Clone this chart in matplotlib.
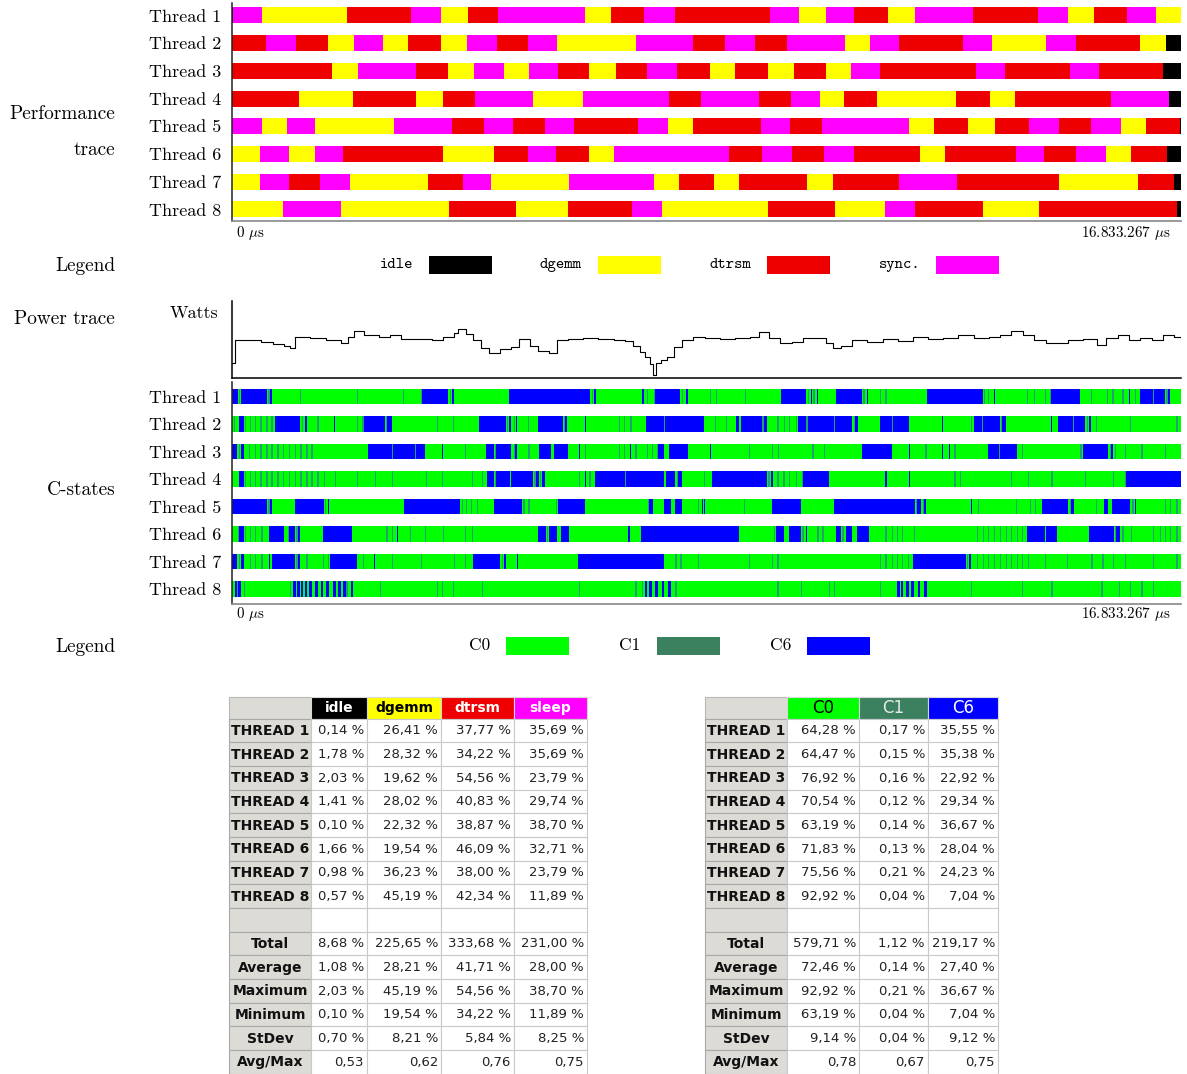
import matplotlib
matplotlib.use("Agg")
import matplotlib.pyplot as plt
from matplotlib.patches import Rectangle

plt.rcParams['mathtext.fontset'] = 'cm'
plt.rcParams['axes.formatter.use_mathtext'] = True

W, H = 1187, 1074
SERIF = 'cmr10'
MONO = 'cmtt10'

threads = [f"Thread {i}" for i in range(1, 9)]
run_end_label = "16.833.267 $\\mu$s"

# ---- performance trace: one state code per segment, segment starts in % of run ----
# I = idle, G = dgemm, T = dtrsm, S = sync.
perf_states = [
    "ISGTSGTSGTSTSGSTGSTSGTSG",
    "TSTGSGTGSTSGSTSTSGSTSGSTGI",
    "TGSTGSGSTGTSTGTGTGSTSTSTI",
    "TGTGTSGSTSTSGTGTGTSI",
    "SGSGSTSTSTSGTSTSGTGTSTSGTI",
    "GSGSTGTSTGSTSTSTGTSTSGTI",
    "GSTSGTSGSGTGTGTSTGTI",
    "GSGTGTSGTGSTGTI",
]
perf_starts = [
    [0, 0.14, 3.16, 12.13, 18.88, 22.05, 24.90, 28.06, 37.24, 39.98, 43.46, 46.63,
     56.65, 59.71, 62.56, 65.51, 69.10, 71.94, 78.06, 84.92, 88.08, 90.83, 94.31, 97.37],
    [0, 3.59, 6.75, 10.13, 12.87, 15.93, 18.57, 22.05, 24.79, 27.95, 31.22, 34.28, 42.62,
     48.63, 51.90, 55.07, 58.44, 64.56, 67.20, 70.26, 77.01, 80.07, 85.76, 88.93, 95.68, 98.42],
    [0, 10.55, 13.29, 19.41, 22.79, 25.53, 28.69, 31.33, 34.39, 37.66, 40.51, 43.78, 46.84,
     50.32, 52.96, 56.44, 59.18, 62.56, 65.19, 68.25, 78.38, 81.44, 88.30, 91.35, 98.10],
    [0, 7.07, 12.76, 19.41, 22.26, 25.63, 31.75, 37.03, 46.10, 49.37, 55.49, 58.86, 61.92,
     64.45, 67.94, 76.27, 79.85, 82.49, 92.62, 98.73],
    [0, 3.16, 5.80, 8.76, 17.09, 23.21, 26.58, 29.64, 33.02, 36.08, 42.83, 45.99, 48.63,
     55.70, 58.76, 62.13, 71.31, 73.95, 77.54, 80.38, 83.97, 87.14, 90.51, 93.67, 96.31, 99.90],
    [0, 2.90, 6.01, 8.70, 11.66, 22.26, 27.64, 31.22, 34.18, 37.66, 40.30, 52.32, 55.80,
     58.97, 62.34, 65.51, 72.47, 75.16, 82.60, 85.55, 88.98, 92.09, 94.73, 98.53],
    [0, 2.90, 6.01, 9.28, 12.45, 20.68, 24.37, 27.32, 35.55, 44.52, 47.15, 50.74, 53.38,
     60.55, 63.29, 70.26, 76.38, 87.14, 95.47, 99.27],
    [0, 5.38, 11.45, 22.84, 29.96, 35.39, 42.14, 45.26, 56.49, 63.56, 68.78, 71.94, 79.12,
     85.02, 99.63],
]
perf_colors = {'I': '#000000', 'G': '#ffff00', 'T': '#ee0000', 'S': '#ff00ff'}
perf_legend = [('idle', 'I'), ('dgemm', 'G'), ('dtrsm', 'T'), ('sync.', 'S')]

# ---- power trace (time in % of run, relative watts) ----
power_t = [0, 0.28, 1.88, 3.08, 4.27, 5.47, 6.11, 6.67, 8.27, 9.86, 11.47, 12.26, 12.90,
           13.86, 15.45, 16.66, 17.85, 19.44, 21.05, 22.24, 23.44, 23.84, 24.64, 25.43,
           26.24, 27.04, 28.23, 29.43, 30.22, 31.43, 32.23, 33.42, 34.22, 35.42, 37.02,
           38.61, 40.21, 41.41, 42.21, 43.01, 43.57, 44.04, 44.36, 44.69, 45.16, 45.80,
           46.60, 47.40, 48.60, 49.79, 51.39, 52.99, 54.58, 55.54, 56.58, 57.78, 58.98,
           60.17, 61.77, 62.57, 63.37, 64.17, 65.36, 66.96, 68.56, 70.15, 71.75, 73.35,
           74.95, 76.54, 78.15, 79.74, 80.93, 82.13, 83.33, 84.53, 85.73, 86.92, 88.13,
           89.72, 91.15, 92.11, 93.32, 94.51, 95.71, 96.91, 98.11, 99.31, 100]
power_w = [15, 38, 38, 36.3, 34, 32, 30, 41, 40, 38, 35, 41.3, 47.3,
           43, 41.3, 43, 39, 39, 38, 41.3, 45, 49, 44, 38,
           30, 25.3, 29, 31, 39, 32, 27.3, 25, 38, 39, 40,
           39, 38, 37.3, 32, 26.3, 21.3, 14, 3, 15, 18, 21.3,
           31.3, 38, 41, 40, 39, 40, 41.3, 46.3, 40, 35, 36.3,
           40, 40, 35, 30, 32, 38, 36.3, 39, 37.3, 41, 39,
           40, 43, 40, 41.3, 43, 47.3, 43, 38, 35.3, 35, 38,
           39, 33, 40, 43, 38, 40, 38, 43, 41.3, 40]

# ---- C-states: C6 intervals (start, end) and short C1 blips, in % of run ----
c6_spans = [
    [(0, 0.63), (0.92, 3.73), (3.90, 4.22), (19.97, 22.79), (23.21, 23.42), (29.22, 37.77),
     (38.12, 38.36), (43.22, 43.37), (44.55, 47.26), (47.79, 48.00), (57.88, 60.52),
     (60.97, 61.10), (61.68, 61.80), (63.61, 66.42), (66.95, 67.07), (73.25, 79.12),
     (80.28, 80.40), (86.33, 89.31), (94.52, 94.64), (95.64, 98.28), (98.56, 98.81)],
    [(0.70, 1.23), (4.50, 7.21), (7.67, 7.88), (10.76, 10.88), (13.89, 16.11), (16.28, 16.81),
     (26.02, 28.83), (29.22, 29.40), (29.92, 30.04), (32.21, 34.85), (35.13, 35.34),
     (37.17, 37.29), (43.64, 49.72), (53.13, 53.41), (53.66, 55.81), (56.05, 56.40),
     (59.64, 65.37), (65.65, 65.97), (68.29, 71.38), (74.83, 74.95), (78.17, 80.88),
     (81.16, 81.58), (86.33, 86.45), (87.03, 89.91), (90.30, 90.55)],
    [(0, 0.56), (0.91, 1.23), (14.28, 20.33), (22.08, 22.20), (26.72, 27.60), (27.78, 29.40),
     (29.75, 30.03), (32.35, 33.62), (33.90, 35.38), (36.54, 36.66), (41.92, 42.04),
     (44.90, 45.57), (46.03, 48.00), (50.36, 50.48), (66.35, 69.52), (71.31, 71.43),
     (74.83, 74.95), (75.53, 75.65), (79.65, 82.70), (89.67, 92.30), (92.66, 92.83)],
    [(0.70, 1.23), (26.83, 27.60), (27.78, 29.29), (29.40, 31.76), (31.93, 32.39),
     (32.64, 32.99), (37.17, 37.29), (38.29, 45.57), (45.68, 46.73), (46.98, 47.37),
     (50.53, 56.40), (56.75, 57.00), (60.10, 62.94), (68.85, 68.97), (71.31, 71.43),
     (94.13, 100)],
    [(0, 3.73), (3.90, 4.22), (6.68, 9.67), (10.13, 10.25), (18.11, 24.02), (27.60, 30.59),
     (34.36, 36.64), (36.71, 37.24), (43.99, 44.34), (45.50, 46.21), (46.73, 47.44),
     (49.55, 49.67), (49.72, 49.84), (56.86, 59.95), (63.44, 71.98), (72.16, 72.61),
     (72.97, 73.14), (77.89, 78.01), (85.34, 88.08), (88.44, 88.68), (91.88, 92.34),
     (92.76, 94.66), (95.12, 95.29)],
    [(0.70, 1.23), (3.87, 5.45), (6.01, 6.61), (6.96, 7.21), (9.56, 12.66), (17.34, 17.46),
     (32.28, 33.06), (33.44, 34.25), (34.71, 35.48), (41.74, 41.99), (43.15, 53.41),
     (57.28, 58.20), (58.69, 59.95), (60.45, 60.57), (63.61, 64.14), (64.67, 65.37),
     (65.90, 67.16), (83.80, 85.66), (85.80, 86.89), (90.27, 92.90), (93.11, 93.53)],
    [(0, 0.56), (0.91, 1.23), (3.87, 4.04), (4.22, 6.61), (6.96, 7.21), (10.30, 13.19),
     (14.98, 15.10), (25.42, 28.24), (28.69, 28.83), (30.03, 30.15), (36.47, 45.57),
     (71.73, 71.85), (71.91, 77.36), (77.71, 77.89)],
    [(0.35, 0.63), (0.67, 0.95), (6.43, 6.71), (6.86, 7.14), (7.24, 7.52), (7.67, 7.95),
     (8.12, 8.40), (8.79, 9.07), (9.35, 9.63), (9.95, 10.23), (10.65, 10.93), (11.18, 11.46),
     (11.71, 11.99), (12.52, 12.80), (43.50, 43.78), (43.99, 44.27), (44.62, 44.90),
     (45.26, 45.54), (45.96, 46.24), (70.12, 70.40), (70.47, 70.75), (71.03, 71.31),
     (71.56, 71.84), (72.26, 72.54), (72.97, 73.25)],
]
c1_blips = [
    [0.74, 3.83, 7.14, 13.12, 18.04, 19.87, 22.96, 37.94, 43.74, 44.48, 47.44, 50.36, 50.95,
     54.01, 60.69, 61.26, 66.53, 68.29, 68.85, 79.19, 79.65, 83.80, 84.50, 85.62, 86.15,
     90.48, 92.23, 92.76, 93.82, 95.12, 97.05, 98.46],
    [0.21, 1.34, 1.86, 2.39, 2.99, 3.62, 4.15, 7.38, 9.0, 13.12, 13.75, 16.18, 21.55, 23.31,
     28.97, 29.71, 31.15, 34.95, 40.76, 41.28, 41.99, 45.50, 50.88, 52.01, 55.88, 57.46,
     58.16, 58.69, 59.39, 60.52, 63.44, 65.55, 69.55, 77.89, 79.05, 81.05, 88.61, 90.09,
     91.00, 94.59, 99.51],
    [0.70, 1.76, 2.39, 2.99, 3.62, 4.15, 4.78, 5.38, 5.98, 6.61, 7.21, 7.84, 8.37, 16.81,
     19.27, 24.54, 27.71, 29.68, 31.22, 37.17, 40.76, 41.28, 42.51, 43.74, 44.27, 44.80,
     54.47, 56.93, 57.56, 61.15, 62.38, 73.07, 76.13, 80.81, 83.27, 89.39, 92.48, 93.01,
     94.06, 95.82, 98.28],
    [1.34, 1.86, 2.39, 2.99, 3.62, 4.15, 4.78, 5.38, 5.98, 6.61, 7.21, 7.84, 8.37, 9.0, 9.67,
     10.83, 13.12, 15.05, 16.81, 20.40, 22.08, 25.24, 26.30, 27.71, 31.86, 32.46, 36.54,
     37.66, 41.39, 46.91, 49.72, 56.51, 57.46, 58.09, 58.69, 59.39, 60.02, 76.13, 76.66,
     82.11, 83.87, 86.33, 89.84, 92.83, 94.06],
    [3.83, 9.77, 24.19, 24.61, 25.17, 25.77, 30.70, 31.22, 34.15, 43.85, 49.12, 53.94, 72.09,
     72.79, 78.59, 82.63, 84.04, 84.57, 88.26, 91.07, 94.87, 98.28, 98.81, 99.51],
    [0.63, 1.34, 1.86, 2.39, 3.09, 5.91, 6.79, 16.28, 16.81, 18.74, 20.33, 22.26, 24.54,
     25.24, 33.16, 57.11, 60.10, 61.68, 62.21, 64.32, 68.85, 69.55, 70.08, 70.61, 71.84,
     78.52, 79.12, 79.65, 80.28, 80.88, 81.51, 82.11, 82.71, 83.27, 93.01, 93.82, 94.69,
     97.05, 97.75, 98.28, 98.81, 99.51],
    [0.70, 1.86, 2.39, 3.09, 6.79, 7.84, 9.60, 10.13, 13.82, 16.88, 19.87, 23.38, 24.54,
     28.41, 46.73, 47.26, 49.12, 54.47, 56.93, 57.46, 68.29, 68.85, 69.55, 70.08, 70.61,
     71.21, 77.43, 78.52, 79.12, 79.65, 80.28, 80.88, 81.51, 82.11, 82.71, 83.27, 83.87,
     85.62, 87.98, 90.55, 91.71, 92.83, 94.06, 97.05, 99.51],
    [0.49, 1.27, 6.08, 12.06, 15.58, 21.55, 22.08, 23.31, 26.30, 36.54, 42.51, 43.22, 46.73,
     57.46, 59.92, 62.91, 63.44, 68.29, 77.89, 83.27, 86.33, 91.60, 93.46, 94.59, 95.82,
     97.05],
]
cstate_colors = {'C0': '#00ff00', 'C1': '#3b8160', 'C6': '#0000ff'}
blip_color = '#22a070'

# ---- summary tables ----
row_labels = [f"THREAD {i}" for i in range(1, 9)]
stat_labels = ["Total", "Average", "Maximum", "Minimum", "StDev", "Avg/Max"]

perf_cols = ["idle", "dgemm", "dtrsm", "sleep"]
perf_idle = [0.14, 1.78, 2.03, 1.41, 0.10, 1.66, 0.98, 0.57]
perf_dgemm = [26.41, 28.32, 19.62, 28.02, 22.32, 19.54, 36.23, 45.19]
perf_dtrsm = [37.77, 34.22, 54.56, 40.83, 38.87, 46.09, 38.00, 42.34]
perf_sleep = [35.69, 35.69, 23.79, 29.74, 38.70, 32.71, 23.79, 11.89]
perf_stats = [
    [8.68, 225.65, 333.68, 231.00],
    [1.08, 28.21, 41.71, 28.00],
    [2.03, 45.19, 54.56, 38.70],
    [0.10, 19.54, 34.22, 11.89],
    [0.70, 8.21, 5.84, 8.25],
    [0.53, 0.62, 0.76, 0.75],
]

cst_cols = ["C0", "C1", "C6"]
cst_c0 = [64.28, 64.47, 76.92, 70.54, 63.19, 71.83, 75.56, 92.92]
cst_c1 = [0.17, 0.15, 0.16, 0.12, 0.14, 0.13, 0.21, 0.04]
cst_c6 = [35.55, 35.38, 22.92, 29.34, 36.67, 28.04, 24.23, 7.04]
cst_stats = [
    [579.71, 1.12, 219.17],
    [72.46, 0.14, 27.40],
    [92.92, 0.21, 36.67],
    [63.19, 0.04, 7.04],
    [9.14, 0.04, 9.12],
    [0.78, 0.67, 0.75],
]


def px_axes(fig, left, top, right, bottom):
    return fig.add_axes([left / W, 1 - bottom / H, (right - left) / W, (bottom - top) / H])


def style_trace_axes(ax, top_pad, bottom_pad):
    ax.set_xlim(0, 100)
    ax.set_ylim(7 + bottom_pad, -top_pad)
    ax.set_xticks([])
    ax.set_yticks(range(len(threads)))
    ax.set_yticklabels(threads, fontfamily=SERIF, fontsize=13)
    ax.tick_params(axis='y', length=0, pad=8)
    for s in ('top', 'right'):
        ax.spines[s].set_visible(False)
    ax.spines['left'].set_color('#222222')
    ax.spines['left'].set_linewidth(1.1)
    ax.spines['bottom'].set_color('#888888')
    ax.spines['bottom'].set_linewidth(1.2)


fig = plt.figure(figsize=(W / 100, H / 100), dpi=100)
ov = fig.add_axes([0, 0, 1, 1])
ov.set_xlim(0, W)
ov.set_ylim(H, 0)
ov.axis('off')

# Performance trace
ax_perf = px_axes(fig, 232, 3, 1181, 221)
for i, (states, starts) in enumerate(zip(perf_states, perf_starts)):
    ends = starts[1:] + [100]
    widths = [e - s for s, e in zip(starts, ends)]
    ax_perf.barh(i, widths, left=starts, height=0.58,
                 color=[perf_colors[c] for c in states], linewidth=0)
style_trace_axes(ax_perf, 0.45, 0.42)

# Power trace
ax_pow = px_axes(fig, 232, 301, 1181, 378)
ax_pow.step(power_t, power_w, where='post', color='black', lw=0.8)
ax_pow.set_xlim(0, 100)
ax_pow.set_ylim(0, 77)
ax_pow.set_xticks([])
ax_pow.set_yticks([])
for s in ('top', 'right'):
    ax_pow.spines[s].set_visible(False)
ax_pow.spines['left'].set_linewidth(1.1)
ax_pow.spines['bottom'].set_linewidth(1.1)

# C-states
ax_cs = px_axes(fig, 232, 382, 1181, 604)
for i in range(len(threads)):
    ax_cs.barh(i, 100, left=0, height=0.56, color=cstate_colors['C0'], linewidth=0)
    spans = c6_spans[i]
    ax_cs.barh(i, [e - s for s, e in spans], left=[s for s, _ in spans], height=0.56,
               color=cstate_colors['C6'], linewidth=0)
    ax_cs.barh(i, 0.13, left=c1_blips[i], height=0.56, color=blip_color, linewidth=0)
style_trace_axes(ax_cs, 0.53, 0.55)

# time labels
for y in (233, 614):
    ov.text(236, y, "0 $\\mu$s", fontfamily=SERIF, fontsize=10.8, ha='left', va='center')
    ov.text(1171, y, run_end_label, fontfamily=SERIF, fontsize=10.8,
            ha='right', va='center')

# left side section labels
side_kw = dict(fontfamily=SERIF, fontsize=13.9, ha='right', va='center')
ov.text(115, 114, "Performance", **side_kw)
ov.text(115, 150, "trace", **side_kw)
ov.text(115, 266, "Legend", **side_kw)
ov.text(115, 319, "Power trace", **side_kw)
ov.text(218, 313, "Watts", fontfamily=SERIF, fontsize=13, ha='right', va='center')
ov.text(115, 490, "C-states", **side_kw)
ov.text(115, 647, "Legend", **side_kw)

# legends
for k, (name, code) in enumerate(perf_legend):
    x0 = 429 + k * 169
    ov.text(x0 - 16, 265, name, fontfamily=MONO, fontsize=11.5, ha='right', va='center')
    ov.add_patch(Rectangle((x0, 256), 63, 18, color=perf_colors[code], lw=0))
for k, name in enumerate(cst_cols):
    x0 = 506 + k * 150.5
    ov.text(x0 - 16, 645, name, fontfamily=SERIF, fontsize=12.5, ha='right', va='center')
    ov.add_patch(Rectangle((x0, 637), 63, 18, color=cstate_colors[name], lw=0))


def fmt(v, pct=True):
    s = f"{v:.2f}".replace('.', ',')
    return s + " %" if pct else s


def draw_table(x_edges, header, head_bg, head_fg, head_bold, head_size, columns, stats):
    top, head_h, row_h = 697, 21.5, 23.67
    grid = '#c9c9c9'
    hdr_bg = '#dddbd6'
    labels = row_labels + [""] + stat_labels
    n_rows = len(labels)
    # header row
    ov.add_patch(Rectangle((x_edges[0], top), x_edges[1] - x_edges[0], head_h,
                           facecolor=hdr_bg, edgecolor='#b8b8b8', lw=0.8))
    for j, name in enumerate(header):
        x0, x1 = x_edges[j + 1], x_edges[j + 2]
        ov.add_patch(Rectangle((x0, top), x1 - x0, head_h, facecolor=head_bg[j],
                               edgecolor='#d8d8d8', lw=0.8))
        ov.text((x0 + x1) / 2, top + head_h / 2 + 0.5, name, color=head_fg[j],
                fontsize=head_size, fontweight='bold' if head_bold else 'normal',
                ha='center', va='center')
    # body
    y = top + head_h
    for r in range(n_rows):
        ov.add_patch(Rectangle((x_edges[0], y), x_edges[1] - x_edges[0], row_h,
                               facecolor=hdr_bg, edgecolor='#a8a8a8', lw=0.8))
        ov.text((x_edges[0] + x_edges[1]) / 2, y + row_h / 2 + 0.5, labels[r],
                fontsize=10, fontweight='bold', ha='center', va='center', color='#111111')
        for j in range(len(header)):
            x0, x1 = x_edges[j + 1], x_edges[j + 2]
            ov.add_patch(Rectangle((x0, y), x1 - x0, row_h, facecolor='white',
                                   edgecolor=grid, lw=0.8))
            if r < 8:
                txt = fmt(columns[j][r])
            elif r == 8:
                txt = ""
            else:
                k = r - 9
                txt = fmt(stats[k][j], pct=(stat_labels[k] != "Avg/Max"))
            ov.text(x1 - 3, y + row_h / 2 + 0.5, txt, fontsize=9.5, ha='right',
                    va='center', color='#222222')
        y += row_h


draw_table([229, 311, 367, 441, 514, 587], perf_cols,
           ['#000000', '#ffff00', '#ee0000', '#ff00ff'],
           ['white', 'black', 'white', 'white'], True, 10,
           [perf_idle, perf_dgemm, perf_dtrsm, perf_sleep], perf_stats)
draw_table([705, 787, 859, 928, 998], cst_cols,
           [cstate_colors['C0'], cstate_colors['C1'], cstate_colors['C6']],
           ['black', '#e8e8e8', 'white'], False, 12,
           [cst_c0, cst_c1, cst_c6], cst_stats)

fig.savefig("out.png", dpi=100)
